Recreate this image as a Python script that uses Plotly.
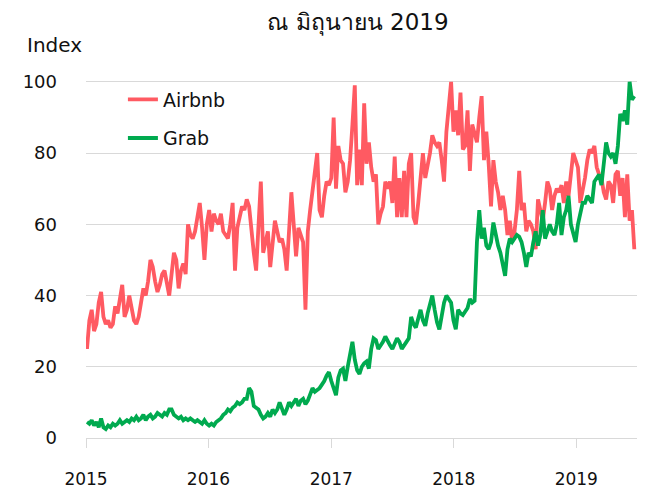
import pandas as pd
import plotly.graph_objects as go

start_date = "2015-01-04"

airbnb = [
    25, 33, 36, 30, 32, 38, 41, 34, 32, 33, 31, 32, 37, 35, 39, 43, 34, 36, 40, 37,
    33, 32, 34, 38, 42, 40, 44, 50, 48, 44, 41, 43, 46, 47, 43, 40, 46, 52, 50, 42,
    47, 49, 46, 60, 57, 56, 58, 62, 66, 59, 50, 60, 64, 58, 63, 61, 60, 63, 58, 57,
    56, 60, 66, 47, 59, 62, 65, 64, 67, 65, 57, 52, 47, 60, 72, 52, 55, 58, 48, 54,
    61, 58, 55, 56, 53, 47, 58, 69, 60, 51, 59, 57, 55, 36, 58, 64, 70, 76, 80, 64,
    62, 68, 72, 71, 73, 90, 70, 82, 78, 77, 69, 72, 78, 88, 99, 71, 81, 71, 94, 77,
    83, 76, 72, 74, 60, 63, 65, 72, 70, 72, 66, 79, 62, 73, 62, 75, 62, 77, 80, 62,
    60, 66, 74, 80, 73, 76, 80, 85, 83, 82, 83, 78, 72, 86, 92, 100, 86, 92, 85, 97,
    81, 82, 92, 75, 88, 85, 83, 90, 96, 78, 86, 77, 65, 78, 72, 69, 64, 68, 64, 57,
    61, 55, 58, 64, 75, 64, 66, 58, 61, 60, 58, 53, 67, 64, 61, 66, 72, 70, 64, 68,
    70, 69, 71, 66, 72, 68, 74, 80, 78, 76, 66, 69, 73, 78, 81, 80, 82, 76, 74, 73,
    69, 67, 72, 71, 66, 74, 75, 68, 73, 62, 74, 61, 64, 53,
]

grab = [
    4.5, 4, 5, 3.5, 4.5, 3, 5.5, 3, 2.5, 3.5, 3, 4, 3.5, 4, 5, 4, 4.5, 5, 4.5, 5.5,
    5, 6, 5, 5.5, 6.5, 5, 6, 6.5, 5.5, 6, 7, 6.5, 6, 7, 6.5, 8, 8, 6.5, 6, 5.5,
    6, 5, 5.5, 5, 5.5, 5, 4.5, 5, 4.5, 4, 5, 4, 3.5, 4, 3.5, 4.5, 5, 5.5, 6.5, 7,
    8, 7.5, 8.5, 9, 10, 9.5, 10, 11, 11, 14, 13, 9, 8.5, 8, 6.5, 5.5, 6, 7, 6, 8,
    7, 8, 10, 8, 6.5, 8, 10, 9, 10, 11, 9, 10.5, 11, 9.5, 10.5, 12, 14, 13, 13.5, 14,
    15, 16, 17.5, 18.5, 16, 14, 12, 17, 19, 19.5, 16, 20, 24, 27, 22, 19, 18, 20, 21, 21.5,
    19.5, 25, 28, 27.5, 25, 26, 27, 28.5, 27, 26, 25, 26.5, 28, 27, 25, 26, 27, 28, 34, 32,
    31, 34, 36, 33, 31.5, 35, 38, 40, 36, 32.5, 30.5, 34, 38, 40, 39, 38, 33, 30.5, 36, 35,
    34.5, 35.5, 36.5, 39, 38, 38.5, 55, 64, 56, 59, 54, 53, 55, 60.5, 57, 54, 52, 49, 45.5, 53,
    56, 55, 56, 57, 56.5, 55, 52, 48, 52, 51, 55, 58, 54, 57, 64, 56, 58, 60, 58, 57,
    60, 66, 57, 62, 64, 68, 60, 57, 55, 60, 63, 66, 66, 68, 67, 66, 72, 73, 74, 71,
    78, 83, 80, 79, 80, 77, 82, 91, 89, 92, 88, 100, 95, 96,
]

series_names = ["Airbnb", "Grab"]
year_ticks = ["2015-01-01", "2016-01-01", "2017-01-01", "2018-01-01", "2019-01-01"]
year_labels = ["2015", "2016", "2017", "2018", "2019"]
y_ticks = [0, 20, 40, 60, 80, 100]

dates = pd.date_range(start_date, periods=len(airbnb), freq="7D")

FONT = "DejaVu Sans, sans-serif"
GRID = "#d9d9d9"

fig = go.Figure()
fig.add_trace(go.Scatter(
    x=dates, y=airbnb, name=series_names[0], mode="lines",
    line=dict(color="#FF5A62", width=3.8), legendgroup="a",
))
fig.add_trace(go.Scatter(
    x=dates, y=grab, name=series_names[1], mode="lines",
    line=dict(color="#00AA4F", width=3.8), legendgroup="b",
))

fig.update_layout(
    width=653, height=483,
    margin=dict(l=78, r=24, t=71, b=53),
    paper_bgcolor="white", plot_bgcolor="white",
    font=dict(family=FONT, size=17, color="#111111"),
    title=dict(text="ณ มิถุนายน 2019", x=0.536, xanchor="center",
               y=0.971, yanchor="middle", font=dict(size=23, color="#111111")),
    showlegend=True,
    legend=dict(x=0.067, y=0.996, xanchor="left", yanchor="top",
                bgcolor="rgba(0,0,0,0)", font=dict(size=19),
                traceorder="grouped", tracegroupgap=11),
    xaxis=dict(
        type="date", range=["2015-01-01", "2019-07-01"],
        tickmode="array", tickvals=year_ticks, ticktext=year_labels,
        showgrid=False, showline=True, linecolor=GRID, linewidth=1,
        ticks="outside", ticklen=9, tickcolor=GRID, automargin=False,
        ticklabelstandoff=17, tickfont=dict(size=17),
    ),
    yaxis=dict(
        range=[0, 100.8], tickmode="array", tickvals=y_ticks, automargin=False,
        showgrid=True, gridcolor=GRID, gridwidth=1, zeroline=False,
        showline=False, ticks="", ticklabelstandoff=28, tickfont=dict(size=18),
    ),
    annotations=[dict(
        text="Index", xref="paper", yref="paper", x=-0.111, y=1.094,
        xanchor="left", yanchor="middle", showarrow=False,
        font=dict(size=20, color="#111111"),
    )],
)

fig.write_html("out.html")
